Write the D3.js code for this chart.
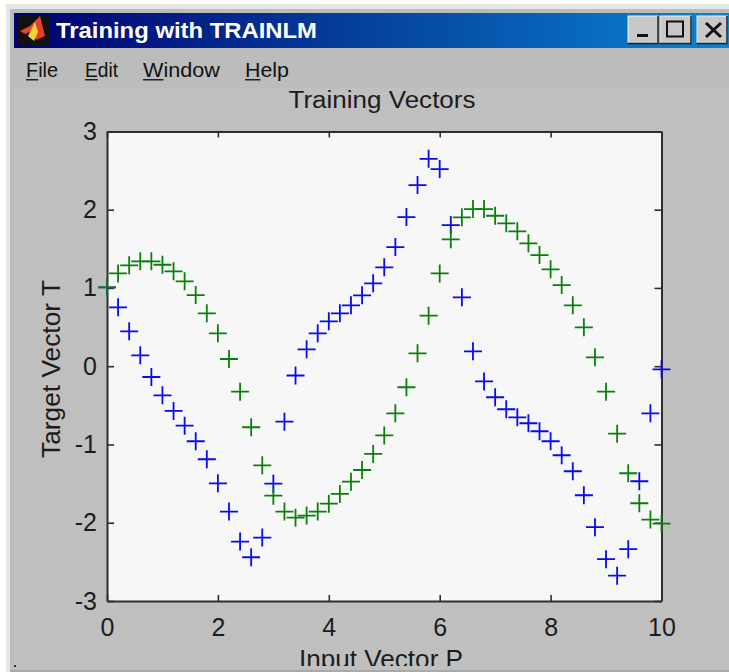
<!DOCTYPE html>
<html><head><meta charset="utf-8">
<script src="https://cdn.jsdelivr.net/npm/d3@7"></script>
<style>html,body{margin:0;padding:0;background:#fff;overflow:hidden}svg{display:block}text{font-family:"Liberation Sans",Arial,sans-serif}</style>
</head><body><div id="chart"></div>
<script>
const P = [0,0.2,0.4,0.6,0.8,1,1.2,1.4,1.6,1.8,2,2.2,2.4,2.6,2.8,3,3.2,3.4,3.6,3.8,4,4.2,4.4,4.6,4.8,5,5.2,5.4,5.6,5.8,6,6.2,6.4,6.6,6.8,7,7.2,7.4,7.6,7.8,8,8.2,8.4,8.6,8.8,9,9.2,9.4,9.6,9.8,10];
const blueT = [1.008,0.752,0.446,0.139,-0.138,-0.372,-0.572,-0.76,-0.959,-1.189,-1.496,-1.858,-2.241,-2.441,-2.19,-1.501,-0.709,-0.119,0.216,0.42,0.573,0.676,0.778,0.905,1.059,1.263,1.522,1.905,2.314,2.65,2.519,1.803,0.88,0.19,-0.195,-0.397,-0.55,-0.653,-0.729,-0.831,-0.959,-1.138,-1.342,-1.649,-2.057,-2.466,-2.676,-2.338,-1.47,-0.602,-0.04];
const greenT = [1.008,1.186,1.289,1.34,1.34,1.296,1.212,1.084,0.909,0.676,0.42,0.092,-0.326,-0.78,-1.266,-1.654,-1.858,-1.935,-1.909,-1.858,-1.756,-1.632,-1.475,-1.326,-1.121,-0.885,-0.602,-0.269,0.165,0.645,1.186,1.621,1.902,2.008,2.008,1.922,1.825,1.723,1.57,1.42,1.238,1.037,0.778,0.497,0.114,-0.326,-0.862,-1.368,-1.751,-1.96,-2.011];
const xTicks = [0,2,4,6,8,10];
const yTicks = [-3,-2,-1,0,1,2,3];
const windowTitle = "Training with TRAINLM";
const menus = ["File","Edit","Window","Help"];
const menuX = [26,85,143,245];
const menuW = [32,33,77,44];
const chartTitle = "Training Vectors";
const xLabel = "Input Vector P";
const yLabel = "Target Vector T";

const W=729,H=672;
const svg=d3.select("#chart").append("svg").attr("width",W).attr("height",H);
const defs=svg.append("defs");
const grad=defs.append("linearGradient").attr("id","tb");
grad.append("stop").attr("offset","0%").attr("stop-color","#00006e");
grad.append("stop").attr("offset","100%").attr("stop-color","#0a84d0");
const pat=defs.append("pattern").attr("id","dith").attr("width",2).attr("height",2).attr("patternUnits","userSpaceOnUse");
pat.append("rect").attr("width",2).attr("height",2).attr("fill","#c2c2c2");
pat.append("rect").attr("width",1).attr("height",1).attr("fill","#bdbdbd");
pat.append("rect").attr("x",1).attr("y",1).attr("width",1).attr("height",1).attr("fill","#bdbdbd");

// window frame
svg.append("rect").attr("x",6).attr("y",4).attr("width",W-6).attr("height",H-4).attr("fill","#e6e6e6");
svg.append("rect").attr("x",10).attr("y",9).attr("width",W-10).attr("height",H-9).attr("fill","#bcbcbc");
svg.append("rect").attr("x",14).attr("y",13).attr("width",W-14).attr("height",35).attr("fill","url(#tb)");
svg.append("rect").attr("x",14).attr("y",88).attr("width",W-14).attr("height",H-88).attr("fill","url(#dith)");

// window icon
const icon=svg.append("g");
icon.append("rect").attr("x",18).attr("y",15).attr("width",31).attr("height",31).attr("fill","#111");
icon.append("path").attr("d","M20,31L30,26L40,16L45,36L36,40L32,31L25,34Z").attr("fill","#e8402a");
icon.append("path").attr("d","M28,36L35,22L38,32L34,41Z").attr("fill","#f5d23a");

svg.append("text").attr("x",56).attr("y",38).attr("fill","#fff").attr("font-size",22).attr("font-weight","bold").attr("textLength",261).attr("lengthAdjust","spacingAndGlyphs").text(windowTitle);

// window buttons
[[628,31],[660,32],[697,31]].forEach(([x,w])=>{
  svg.append("rect").attr("x",x).attr("y",16).attr("width",w-1).attr("height",27).attr("fill","#c8c8c8").attr("stroke","#eee").attr("stroke-width",1);
  svg.append("path").attr("d",`M${x-0.5},43.5H${x+w-1}V16`).attr("fill","none").attr("stroke","#222").attr("stroke-width",1.5);
});
svg.append("rect").attr("x",637).attr("y",34).attr("width",11).attr("height",3).attr("fill","#111");
svg.append("rect").attr("x",667).attr("y",21.5).attr("width",16).attr("height",15).attr("fill","none").attr("stroke","#111").attr("stroke-width",2);
svg.append("path").attr("d","M706,23L721,37M721,23L706,37").attr("stroke","#111").attr("stroke-width",3);

// menus
menus.forEach((m,i)=>{
  const t=svg.append("text").attr("x",menuX[i]).attr("y",77).attr("font-size",21).attr("fill","#111").attr("textLength",menuW[i]).attr("lengthAdjust","spacingAndGlyphs").text(m);
  const first=t.node().getSubStringLength(0,1);
  svg.append("rect").attr("x",menuX[i]).attr("y",79).attr("width",first).attr("height",1.5).attr("fill","#222");
});

// chart
const x=d3.scaleLinear().domain([0,10]).range([107,661.5]);
const y=d3.scaleLinear().domain([-3,3]).range([601,131.4]);
svg.append("rect").attr("x",x(0)).attr("y",y(3)).attr("width",x(10)-x(0)).attr("height",y(-3)-y(3)).attr("fill","#f7f7f7");

const axisColor="#2e2e2e";
function style(g){
  g.selectAll("path.domain").attr("stroke",axisColor).attr("stroke-width",2);
  g.selectAll(".tick line").attr("stroke",axisColor).attr("stroke-width",1.6);
  g.selectAll(".tick text").attr("font-family","'Liberation Sans',Arial,sans-serif").attr("font-size",25).attr("fill","#1c1c1c");
}
const fmt=d=>String(d);
const bottom=svg.append("g").attr("transform",`translate(0,${y(-3)})`).call(d3.axisBottom(x).tickValues(xTicks).tickFormat(fmt).tickSize(-6).tickSizeOuter(0)).call(style);
bottom.selectAll(".tick text").attr("dy",0).attr("y",35);
svg.append("g").attr("transform",`translate(0,${y(3)})`).call(d3.axisTop(x).tickValues(xTicks).tickFormat("").tickSize(-6).tickSizeOuter(0)).call(style);
const left=svg.append("g").attr("transform",`translate(${x(0)},0)`).call(d3.axisLeft(y).tickValues(yTicks).tickFormat(fmt).tickSize(-7).tickSizeOuter(0)).call(style);
left.selectAll(".tick text").attr("x",-10);
svg.append("g").attr("transform",`translate(${x(10)},0)`).call(d3.axisRight(y).tickValues(yTicks).tickFormat("").tickSize(-7).tickSizeOuter(0)).call(style);

const plus="M-9,0H9M0,-9V9";
function marks(vals,color){
  svg.append("g").selectAll("path").data(vals).join("path")
    .attr("d",plus).attr("transform",(d,i)=>`translate(${x(P[i])},${y(d)})`)
    .attr("fill","none").attr("stroke",color).attr("stroke-width",1.8);
}
marks(blueT,"#0808f5");
marks(greenT,"#0b7f0b");

svg.append("text").attr("x",382).attr("y",108).attr("text-anchor","middle").attr("font-size",23).attr("fill","#1c1c1c").attr("textLength",187).attr("lengthAdjust","spacingAndGlyphs").text(chartTitle);
svg.append("text").attr("x",381).attr("y",668).attr("text-anchor","middle").attr("font-size",25).attr("fill","#1c1c1c").attr("textLength",164).attr("lengthAdjust","spacingAndGlyphs").text(xLabel);
svg.append("text").attr("transform","translate(60,369) rotate(-90)").attr("text-anchor","middle").attr("font-size",25).attr("fill","#1c1c1c").attr("textLength",178).attr("lengthAdjust","spacingAndGlyphs").text(yLabel);

// lower edge of the window hides the bottom of the axis label
svg.append("rect").attr("x",10).attr("y",666).attr("width",W-10).attr("height",4).attr("fill","url(#dith)");
svg.append("rect").attr("x",10).attr("y",670).attr("width",W-10).attr("height",2).attr("fill","#a9a9a9");
svg.append("rect").attr("x",14).attr("y",665).attr("width",2).attr("height",2).attr("fill","#333");
</script></body></html>
